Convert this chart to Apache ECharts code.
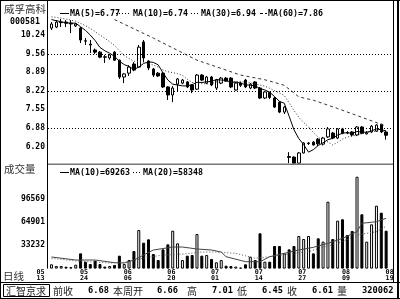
<!DOCTYPE html>
<html><head><meta charset="utf-8">
<script src="https://cdn.jsdelivr.net/npm/echarts@6/dist/echarts.min.js"></script>
<style>html,body{margin:0;padding:0;background:#fff}#c{width:400px;height:299px}</style>
</head><body><div id="c"></div>
<script>
const stockName = '威孚高科';
const stockCode = '000581';
const tickLabels = ['05\n13','05\n24','06\n06','06\n20','07\n01','07\n14','07\n27','08\n09','08\n19'];
const priceTicks = [10.24, 9.56, 8.89, 8.22, 7.55, 6.88, 6.20];
const priceGridValues = [9.56, 8.22, 6.88];
const volTicks = [33232, 64901, 96569];
// [open, close, low, high]
const candles = [
[10.49,10.64,10.42,10.71],[10.53,10.71,10.49,10.78],[10.69,10.71,10.53,10.82],[10.71,10.67,10.53,10.78],
[10.67,10.64,10.31,10.78],[10.57,10.64,10.53,10.67],[10.49,10.06,9.95,10.53],[10.03,10.02,9.88,10.13],
[9.91,9.88,9.59,10.06],[9.70,9.62,9.55,9.75],[9.62,9.44,9.40,9.66],[9.45,9.44,9.23,9.52],
[9.41,9.52,9.35,9.55],[9.62,9.33,9.30,9.66],[9.33,8.72,8.65,9.35],[8.72,8.83,8.50,8.86],
[8.86,9.08,8.76,9.15],[9.19,8.97,8.93,9.26],[9.08,9.80,9.05,9.88],[9.99,9.41,9.26,10.06],
[9.30,9.05,8.97,9.33],[9.01,8.79,8.72,9.05],[8.86,8.76,8.72,8.90],[8.86,8.36,8.32,8.90],
[8.36,8.07,7.89,8.39],[8.07,8.32,7.81,8.39],[8.46,8.65,8.18,8.68],[8.50,8.61,8.46,8.65],
[8.54,8.36,8.32,8.57],[8.43,8.25,8.14,8.46],[8.28,8.79,8.25,8.83],[8.79,8.61,8.57,8.83],
[8.50,8.72,8.46,8.76],[8.72,8.43,8.39,8.76],[8.32,8.61,8.25,8.65],[8.50,8.68,8.46,8.72],
[8.68,8.57,8.54,8.72],[8.68,8.36,8.32,8.72],[8.25,8.50,8.22,8.54],[8.50,8.42,8.36,8.54],
[8.61,8.36,8.32,8.65],[8.32,8.46,8.28,8.50],[8.54,8.32,8.28,8.57],[8.32,7.96,7.92,8.36],
[7.96,8.18,7.92,8.21],[8.16,7.98,7.92,8.18],[7.96,7.63,7.60,8.00],[7.81,7.45,7.41,7.85],
[7.45,7.63,7.38,7.67],[5.84,5.81,5.60,6.00],[5.82,5.60,5.58,5.85],[5.60,5.97,5.58,6.00],
[5.97,6.33,5.95,6.36],[6.31,6.33,6.26,6.36],[6.36,6.26,6.24,6.40],[6.47,6.30,6.22,6.51],
[6.29,6.51,6.24,6.55],[6.55,6.84,6.51,6.91],[6.69,6.51,6.47,6.73],[6.51,6.84,6.47,6.87],
[6.84,6.69,6.65,6.88],[6.70,6.69,6.65,6.76],[6.73,6.62,6.58,6.76],[6.62,6.91,6.58,6.94],
[6.91,6.68,6.65,6.94],[6.66,6.70,6.64,6.76],[6.73,6.94,6.69,6.98],[6.76,6.98,6.73,7.01],
[7.01,6.73,6.69,7.01],[6.73,6.61,6.45,6.76]
];
const volumes = [5900,3600,3600,2600,2000,5400,21000,9500,6300,10900,6300,2800,3600,5000,17800,6300,11800,24200,53100,35700,
40300,20100,11800,26500,33400,52200,34800,11800,17800,18700,47600,17800,18700,13300,8700,11800,4000,3600,2800,1300,
5900,16400,11800,48600,9500,9500,31100,31100,21000,26500,31100,44900,40700,44900,21000,41700,37100,92100,40700,66000,
67900,46300,51800,126500,74800,37100,61000,86600,77000,52200];
const ma5 = [10.80,10.76,10.72,10.68,10.67,10.67,10.54,10.41,10.24,10.04,9.79,9.67,9.58,9.47,9.29,9.17,9.10,8.99,9.08,9.21,
9.27,9.25,9.16,8.87,8.61,8.46,8.43,8.40,8.40,8.44,8.53,8.52,8.55,8.56,8.63,8.61,8.60,8.53,8.54,8.50,
8.44,8.42,8.40,8.30,8.25,8.17,8.01,7.84,7.77,7.30,6.81,6.49,6.27,6.00,6.09,6.24,6.34,6.45,6.50,6.62,
6.68,6.71,6.67,6.75,6.72,6.72,6.77,6.84,6.81,6.77];
const ma10 = [10.90,10.88,10.85,10.82,10.78,10.74,10.66,10.58,10.48,10.36,10.24,10.12,10.00,9.86,9.67,9.49,9.39,9.29,9.28,9.26,
9.22,9.15,9.08,8.98,8.91,8.88,8.84,8.78,8.64,8.52,8.50,8.48,8.47,8.48,8.54,8.57,8.56,8.54,8.55,8.56,
8.52,8.51,8.47,8.43,8.39,8.31,8.23,8.14,8.05,7.78,7.51,7.26,7.07,6.91,6.71,6.54,6.43,6.37,6.26,6.36,
6.47,6.55,6.57,6.63,6.67,6.70,6.74,6.76,6.78,6.74];
// [bar number (1 = first candle), value] read at points along the line
const ma30Pts = [[14,10.80],[22,10.13],[31,9.33],[40,8.79],[45,8.62],[49,8.42],[52,8.00],[55,7.88],[60,7.58],[65,7.26],[70,6.94]];
const volMa10Pts = [[1,16000],[6,11800],[10,11800],[14,8100],[16,7700],[18,11800],[20,18700],[22,25600],[26,29700],[28,29700],
[31,27000],[34,25600],[36,22800],[37,16400],[41,9500],[44,9500],[46,16400],[49,21000],[52,25600],[55,29300],[58,34800],
[61,41700],[64,50800],[65,62400],[68,64600],[70,69263]];
const volMa20Pts = [[1,14200],[6,10500],[13,7700],[17,9000],[20,14600],[24,18700],[28,20000],[32,22800],[35,22800],[39,21000],
[43,14200],[46,16400],[51,21000],[54,23300],[57,29300],[61,37000],[64,46300],[68,50800],[70,58348]];
const legendPrice = [['MA(5)','6.77'],['MA(10)','6.74'],['MA(30)','6.94'],['MA(60)','7.86']];
const legendVol = [['MA(10)','69263'],['MA(20)','58348']];
const summary = [['前收','6.68'],['本周开','6.66'],['高','7.01'],['低','6.45'],['收','6.61'],['量','320062']];
const panelTitle = '成交量', periodName = '日线', brandName = '汇智京求';

const PAD = 3;
const N = PAD + candles.length;
const cats = Array.from({length: N}, (_, i) => String(i));
const pad = arr => Array(PAD).fill('-').concat(arr);
function sparse(pts) { const a = Array(N).fill(null); pts.forEach(([k, v]) => { a[PAD + k - 1] = v; }); return a; }

const MONO = 'DejaVu Sans Mono';
const CJK = '"Noto Sans CJK SC"';
const chart = echarts.init(document.getElementById('c'));
const gridW = 354.05;
chart.setOption({
  animation: false,
  backgroundColor: '#fff',
  grid: [
    {left: 34.5, top: 3, width: gridW, height: 161},
    {left: 34.5, top: 165, width: gridW, height: 103.6}
  ],
  xAxis: [
    {type: 'category', gridIndex: 0, data: cats, boundaryGap: true, axisLine: {show: false}, axisTick: {show: false}, axisLabel: {show: false}, splitLine: {show: false}},
    {type: 'category', gridIndex: 1, data: cats, boundaryGap: true, axisLine: {show: false}, axisTick: {show: false}, splitLine: {show: false},
     axisLabel: {interval: i => i % 9 === 0, formatter: (v, i) => tickLabels[Math.round(i / 9)] || '', margin: 1, lineHeight: 6,
       fontFamily: MONO, fontWeight: 'bold', fontSize: 6.7, color: '#000', padding: [0, 0, 0, 7]}}
  ],
  yAxis: [
    {type: 'value', gridIndex: 0, min: 5.57, max: 11.40, offset: -12.5, axisLine: {show: false}, axisTick: {show: false}, splitLine: {show: false},
     axisLabel: {customValues: priceTicks, formatter: v => v.toFixed(2), margin: 2, color: '#000', fontFamily: MONO, fontWeight: 'bold', fontSize: 8}},
    {type: 'value', gridIndex: 1, min: 0, max: 142650, offset: -12.5, axisLine: {show: false}, axisTick: {show: false}, splitLine: {show: false},
     axisLabel: {customValues: volTicks, formatter: v => String(v), margin: 2, color: '#000', fontFamily: MONO, fontWeight: 'bold', fontSize: 8}}
  ],
  series: [
    {type: 'candlestick', xAxisIndex: 0, yAxisIndex: 0, barWidth: 3, data: Array(PAD).fill(['-','-','-','-']).concat(candles),
     itemStyle: {color: '#fff', color0: '#000', borderColor: '#000', borderColor0: '#000', borderColorDoji: '#000', borderWidth: 1}, silent: true},
    {type: 'line', xAxisIndex: 0, yAxisIndex: 0, data: pad(ma5), symbol: 'none', lineStyle: {color: '#000', width: 1}, silent: true, z: 3},
    {type: 'line', xAxisIndex: 0, yAxisIndex: 0, data: pad(ma10), symbol: 'none', lineStyle: {color: '#333', width: 1, type: [1, 2]}, silent: true, z: 3},
    {type: 'line', xAxisIndex: 0, yAxisIndex: 0, data: sparse(ma30Pts), connectNulls: true, symbol: 'none', lineStyle: {color: '#333', width: 1, type: [3, 3]}, silent: true, z: 3},
    {type: 'bar', xAxisIndex: 1, yAxisIndex: 1, barWidth: 3, silent: true,
     data: Array(PAD).fill('-').concat(volumes.map((v, i) => ({value: v, itemStyle: {color: candles[i][1] >= candles[i][0] ? '#fff' : '#000', borderColor: '#000', borderWidth: 1}})))},
    {type: 'line', xAxisIndex: 1, yAxisIndex: 1, data: sparse(volMa10Pts), connectNulls: true, symbol: 'none', lineStyle: {color: '#444', width: 1}, silent: true, z: 3},
    {type: 'line', xAxisIndex: 1, yAxisIndex: 1, data: sparse(volMa20Pts), connectNulls: true, symbol: 'none', lineStyle: {color: '#555', width: 1, type: [1, 2]}, silent: true, z: 3}
  ]
});

const g = [];
function line(x1, y1, x2, y2, stroke, w, dash) { g.push({type: 'line', silent: true, z: 50, shape: {x1, y1, x2, y2}, style: {stroke, lineWidth: w || 1, lineDash: dash || null}}); }
function text(t, x, y, font, fill, align) { g.push({type: 'text', silent: true, z: 60, x, y, style: {text: t, font, fill: fill || '#000', textAlign: align || 'left', textVerticalAlign: 'middle', verticalAlign: 'middle'}}); }
// frame
line(0, 0.5, 400, 0.5, '#000', 1);
line(0.5, 0, 0.5, 299, '#000', 1);
line(398, 0, 398, 299, '#000', 2);
line(393.5, 0, 393.5, 283, '#000', 1);
line(0, 298.5, 400, 298.5, '#000', 1);
line(0, 282.5, 400, 282.5, '#000', 1);
line(47.5, 0, 47.5, 268.6, '#000', 1);
line(48, 164.3, 393, 164.3, '#777', 1.5);
// dotted grid lines
priceGridValues.forEach(v => {
  const y = Math.round(chart.convertToPixel({yAxisIndex: 0}, v)) + 0.5;
  line(48, y, 393, y, '#000', 1, [1, 2]);
});
// left labels
text(stockName, 4, 9.5, '10.5px ' + CJK, '#333');
text(stockCode, 10, 22, 'bold 8.3px ' + MONO, '#000');
text(panelTitle, 4, 169, '10.5px ' + CJK, '#333');
text(periodName, 3, 276, '10.5px ' + CJK, '#333');
// price legend
const pl = [{lx: [60, 69], dash: null, tx: 70}, {lx: [116, 131], dash: [1, 2], tx: 133}, {lx: [191, 199], dash: [1, 2], tx: 201}, {lx: [260, 267], dash: [3, 2], tx: 268}];
legendPrice.forEach((it, i) => {
  line(pl[i].lx[0], 13.5, pl[i].lx[1], 13.5, '#000', 1, pl[i].dash);
  text(it[0] + '=' + it[1], pl[i].tx, 13.5, 'bold 8.3px ' + MONO, '#000');
});
const vl = [{lx: [60, 69], dash: null, tx: 70}, {lx: [133, 141], dash: [1, 2], tx: 143}];
legendVol.forEach((it, i) => {
  line(vl[i].lx[0], 172.5, vl[i].lx[1], 172.5, '#000', 1, vl[i].dash);
  text(it[0] + '=' + it[1], vl[i].tx, 172.5, 'bold 8.3px ' + MONO, '#000');
});
// bottom bar
g.push({type: 'rect', silent: true, z: 50, shape: {x: 3.5, y: 284.5, width: 46, height: 12}, style: {fill: 'none', stroke: '#000', lineWidth: 1}});
text(brandName, 6, 291, '10px ' + CJK, '#222');
const sx = [[53, 88], [113, 157], [187, 212], [237, 262], [287, 312], [337, 362]];
summary.forEach((it, i) => {
  text(it[0], sx[i][0], 291, '10px ' + CJK, '#222');
  text(it[1], sx[i][1], 291, 'bold 8.7px ' + MONO, '#000');
});
chart.setOption({graphic: {elements: g}});
</script></body></html>
